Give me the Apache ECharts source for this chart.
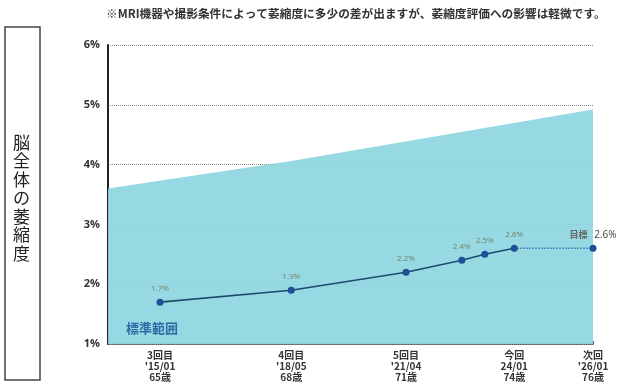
<!DOCTYPE html>
<html>
<head>
<meta charset="utf-8">
<script src="https://cdn.jsdelivr.net/npm/echarts@6/dist/echarts.min.js"></script>
<style>
  html, body { margin: 0; padding: 0; background: #fff; }
  #chart { width: 619px; height: 383px; }
</style>
</head>
<body>
<div id="chart"></div>
<script>
// Exam visits: date, whole-brain atrophy (%)
const visitDates = ['2015-01-01', '2018-05-01', '2021-04-01', '2022-09-01', '2023-04-01', '2024-01-01'];
const atrophyValues = [1.7, 1.9, 2.2, 2.4, 2.5, 2.6];

// Target for the next visit
const targetDate = '2026-01-01';
const targetValue = 2.6;

// Upper edge of the standard range (age-dependent)
const rangeDates = ['2013-09-05', '2018-05-01', '2026-01-01'];
const rangeUpper = [3.60, 4.06, 4.92];

// Labelled ticks on the date axis
const tickDates = ['2015-01-01', '2018-05-01', '2021-04-01', '2024-01-01', '2026-01-01'];
const tickLabels = [
  "3回目\n'15/01\n65歳",
  "4回目\n'18/05\n68歳",
  "5回目\n'21/04\n71歳",
  "今回\n24/01\n74歳",
  "次回\n'26/01\n76歳"
];

const yTicks = [1, 2, 3, 4, 5, 6];

// Dates are placed on a continuous month scale
const mon = s => {
  const [y, m, d] = s.split('-').map(Number);
  return (y - 2000) * 12 + (m - 1) + (d - 1) / 30;
};
const labelByMonth = {};
tickDates.forEach((d, i) => { labelByMonth[mon(d)] = tickLabels[i]; });

const JP = '"Noto Sans CJK JP", "Noto Sans", sans-serif';

const chart = echarts.init(document.getElementById('chart'));
chart.setOption({
  animation: false,
  backgroundColor: '#fff',
  grid: { left: 108, right: 26, top: 45, bottom: 36 },
  graphic: [
    {
      type: 'rect',
      z: 100,
      shape: { x: 5, y: 27, width: 35, height: 353 },
      style: { fill: 'none', stroke: '#444', lineWidth: 1.5 }
    },
    {
      type: 'text',
      z: 100,
      left: 13, top: 133,
      style: {
        text: '脳\n全\n体\nの\n萎\n縮\n度',
        font: '17px ' + JP,
        fill: '#222',
        lineHeight: 18.5,
        align: 'left'
      }
    },
    {
      type: 'text',
      z: 100,
      left: 106, top: 8,
      style: {
        text: '※MRI機器や撮影条件によって萎縮度に多少の差が出ますが、萎縮度評価への影響は軽微です。',
        font: 'bold 11.7px ' + JP,
        fill: '#333'
      }
    },
    {
      type: 'text',
      z: 100,
      left: 126, top: 322,
      style: {
        text: '標準範囲',
        font: 'bold 13px ' + JP,
        fill: '#2a6aa5'
      }
    }
  ],
  xAxis: {
    type: 'value',
    min: mon(rangeDates[0]),
    max: mon(targetDate),
    axisLine: { show: true, lineStyle: { color: '#555', width: 1.5 } },
    axisTick: {
      show: true, inside: true, length: 3,
      customValues: visitDates.map(mon).concat([mon(targetDate)]),
      lineStyle: { color: '#557' }
    },
    axisLabel: {
      customValues: tickDates.map(mon),
      formatter: v => labelByMonth[v] || '',
      fontFamily: JP,
      fontSize: 10,
      fontWeight: 'bold',
      color: '#333',
      lineHeight: 11,
      margin: 6,
      showMinLabel: true,
      showMaxLabel: true,
      hideOverlap: false
    },
    splitLine: { show: false }
  },
  yAxis: {
    type: 'value',
    min: yTicks[0],
    max: yTicks[yTicks.length - 1],
    interval: 1,
    axisLine: { show: true, lineStyle: { color: '#222', width: 2 } },
    axisTick: { show: false },
    axisLabel: {
      formatter: v => v + '%',
      fontFamily: '"Open Sans", sans-serif',
      fontWeight: 'bold',
      fontSize: 11,
      color: '#333',
      margin: 8
    },
    splitLine: { show: true, lineStyle: { color: '#888', type: 'dotted', width: 1 } }
  },
  series: [
    {
      name: '標準範囲',
      type: 'line',
      data: rangeDates.map((d, i) => [mon(d), rangeUpper[i]]),
      symbol: 'none',
      lineStyle: { width: 0 },
      areaStyle: { color: '#8dd6e0', opacity: 0.92 },
      z: 1,
      silent: true
    },
    {
      name: '目標',
      type: 'line',
      data: [
        [mon(visitDates[visitDates.length - 1]), atrophyValues[atrophyValues.length - 1]],
        {
          value: [mon(targetDate), targetValue],
          symbol: 'circle',
          symbolSize: 7,
          label: {
            show: true,
            position: 'top',
            offset: [0, 2],
            distance: 6,
            formatter: '{a|目標}  {b|' + targetValue + '%}',
            rich: {
              a: { fontFamily: JP, fontSize: 9, color: '#666', fontWeight: 'bold' },
              b: { fontFamily: '"Open Sans", sans-serif', fontSize: 10, color: '#444' }
            }
          }
        }
      ],
      symbol: 'none',
      showSymbol: true,
      itemStyle: { color: '#1f4f96' },
      lineStyle: { color: '#3a70b0', type: 'dotted', width: 1.5 },
      z: 3
    },
    {
      name: '萎縮度',
      type: 'line',
      data: visitDates.map((d, i) => [mon(d), atrophyValues[i]]),
      symbol: 'circle',
      symbolSize: 7,
      itemStyle: { color: '#1f4f96' },
      lineStyle: { color: '#1d4b6e', width: 1.6 },
      label: {
        show: true,
        position: 'top',
        distance: 6,
        formatter: p => p.value[1] + '%',
        fontFamily: '"Open Sans", sans-serif',
        fontSize: 8,
        color: '#748266'
      },
      z: 4
    }
  ]
});
</script>
</body>
</html>
